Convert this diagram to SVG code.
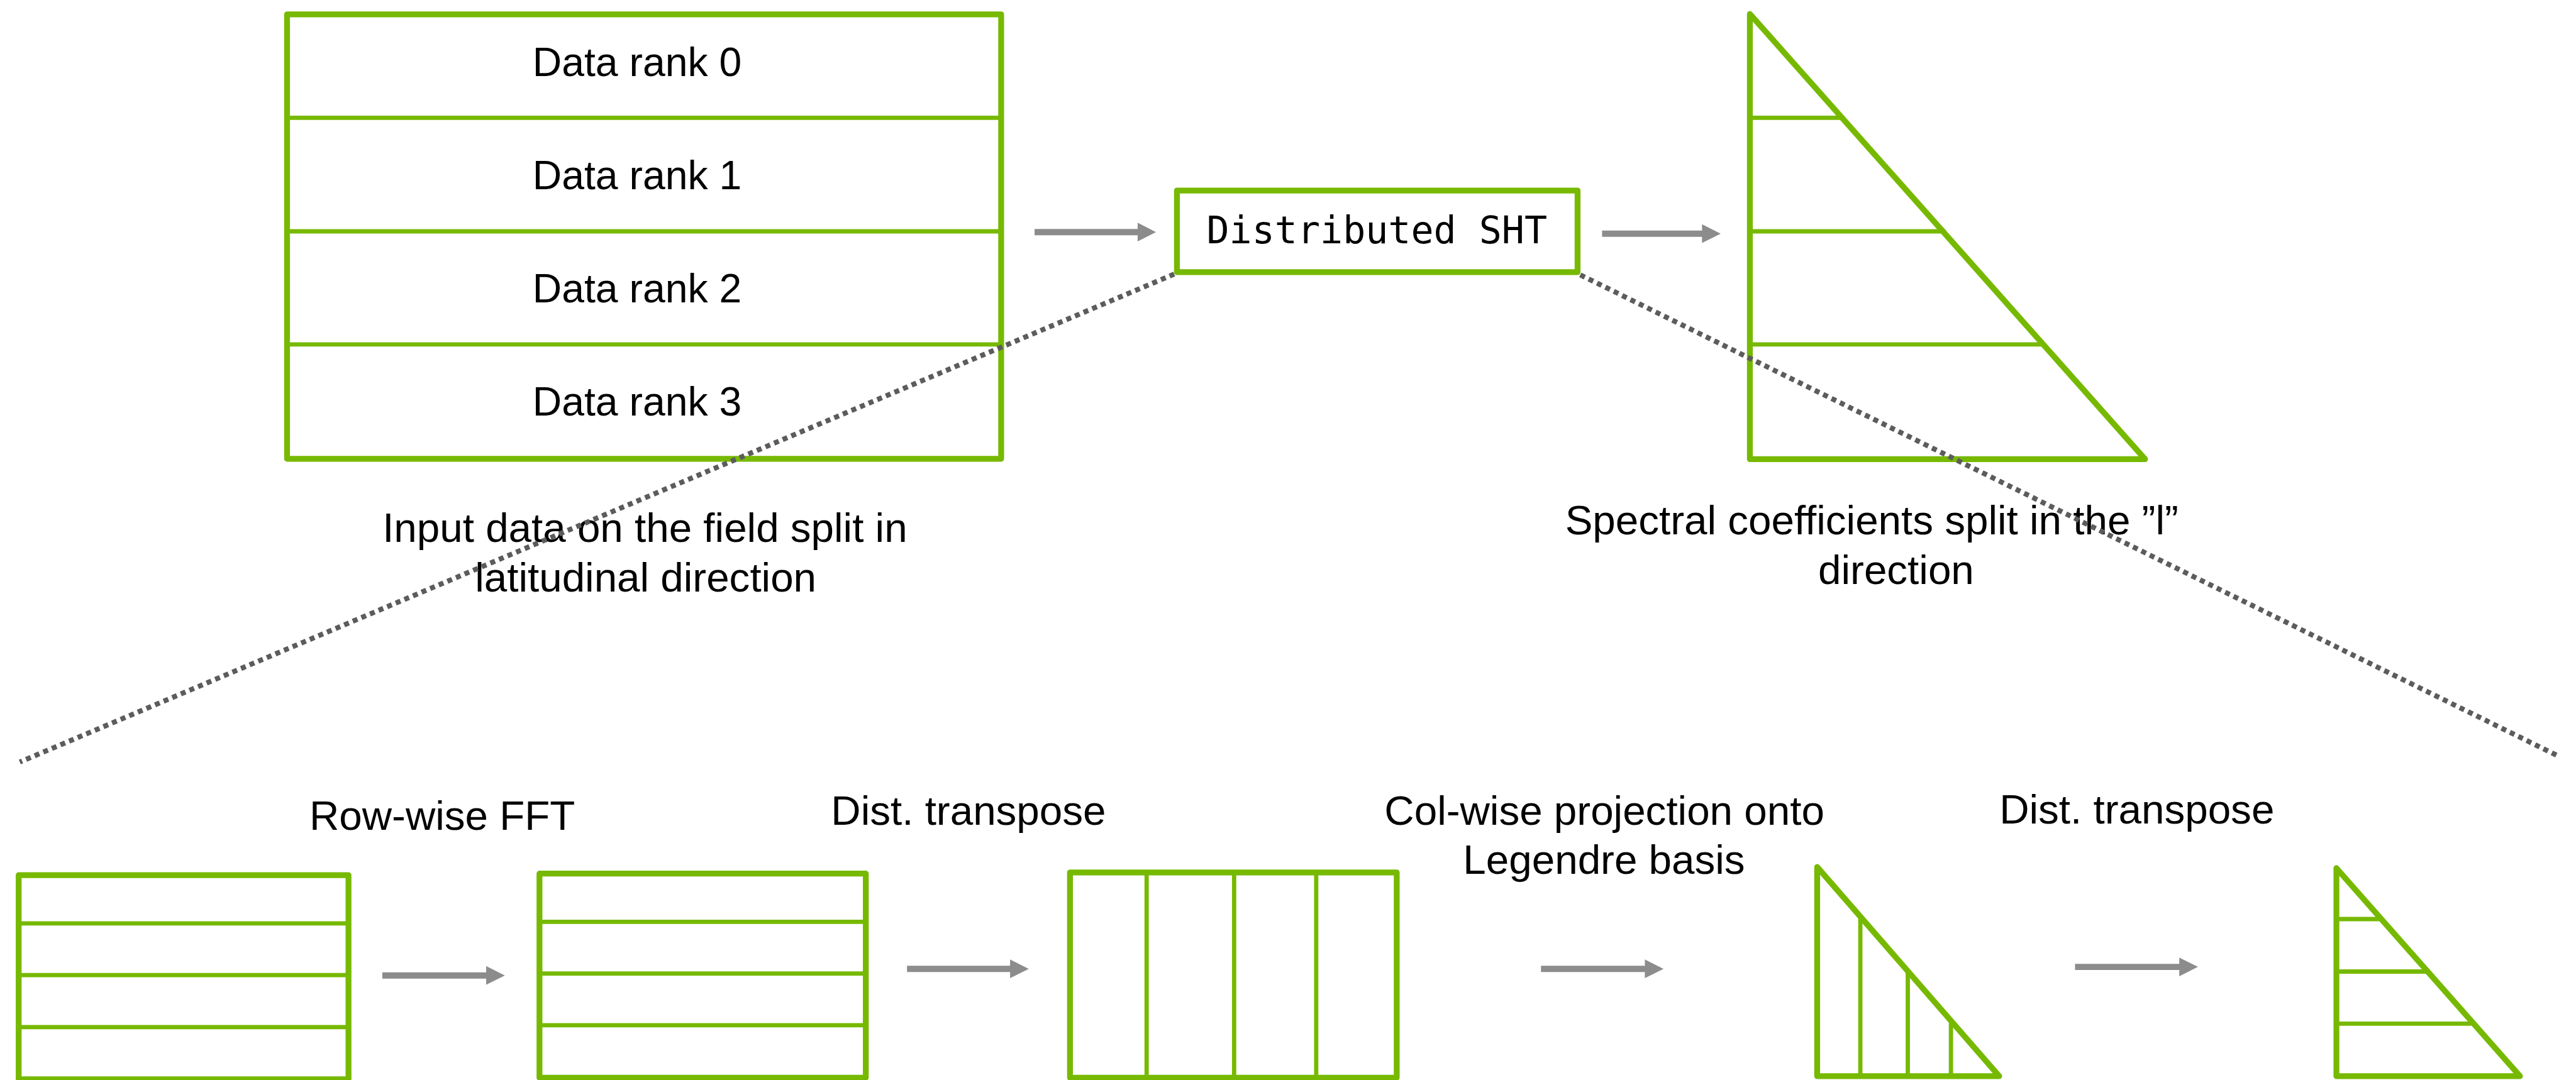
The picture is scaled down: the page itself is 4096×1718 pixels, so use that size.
<svg xmlns="http://www.w3.org/2000/svg" width="4096" height="1718" viewBox="0 0 4096 1718">
<style>
.frame{fill:none;stroke:#76b900;stroke-width:15;stroke-linejoin:round;stroke-linecap:round}
.div{fill:none;stroke:#76b900;stroke-width:11}
.arr{fill:#8c8c8c}
.dot{fill:none;stroke:#5c5c5c;stroke-width:13;stroke-dasharray:13 11}
.t{font-family:"Liberation Sans",Arial,sans-serif;font-size:106px;fill:#000;text-anchor:middle}
.dr{font-size:104px}
.mono{font-family:"DejaVu Sans Mono","Liberation Mono",monospace;font-size:97px;fill:#000;text-anchor:middle}
</style>
<rect width="4096" height="1718" fill="#fff"/>
<g transform="scale(0.61845)">
  <g id="input-data">
    <rect class="frame" x="738" y="37" width="1836" height="1143"/>
    <line class="div" x1="738" y1="303" x2="2574" y2="303"/>
    <line class="div" x1="738" y1="595" x2="2574" y2="595"/>
    <line class="div" x1="738" y1="886" x2="2574" y2="886"/>
    <text class="t dr" x="1638" y="195">Data rank 0</text>
    <text class="t dr" x="1638" y="486">Data rank 1</text>
    <text class="t dr" x="1638" y="777">Data rank 2</text>
    <text class="t dr" x="1638" y="1068">Data rank 3</text>
  </g>
  <g id="input-label">
    <text class="t" x="1658" y="1394">Input data on the field split in</text>
    <text class="t" x="1660" y="1522">latitudinal direction</text>
  </g>
  <g id="distributed-sht">
    <rect class="frame" x="3026" y="490" width="1030" height="210"/>
    <text class="mono" x="3540" y="626">Distributed SHT</text>
  </g>
  <g id="spectral-coeffs">
    <path class="frame" d="M4499 36 L4499 1181 L5515 1181 Z"/>
    <line class="div" x1="4499" y1="303" x2="4735" y2="303"/>
    <line class="div" x1="4499" y1="595" x2="5002" y2="595"/>
    <line class="div" x1="4499" y1="886" x2="5252" y2="886"/>
  </g>
  <g id="spectral-label">
    <text class="t" x="4024" y="1374" style="text-anchor:start">Spectral coefficients split in the ”l”</text>
    <text class="t" x="4875" y="1502">direction</text>
  </g>
  <g id="step-rows-1">
    <rect class="frame" x="48" y="2251" width="848" height="525"/>
    <line class="div" x1="48" y1="2375" x2="896" y2="2375"/>
    <line class="div" x1="48" y1="2508" x2="896" y2="2508"/>
    <line class="div" x1="48" y1="2642" x2="896" y2="2642"/>
  </g>
  <g id="label-fft">
    <text class="t" x="1137" y="2135">Row-wise FFT</text>
  </g>
  <g id="step-rows-2">
    <rect class="frame" x="1387" y="2247" width="839" height="525"/>
    <line class="div" x1="1387" y1="2371" x2="2226" y2="2371"/>
    <line class="div" x1="1387" y1="2504" x2="2226" y2="2504"/>
    <line class="div" x1="1387" y1="2637" x2="2226" y2="2637"/>
  </g>
  <g id="label-transpose-1">
    <text class="t" x="2490" y="2121">Dist. transpose</text>
  </g>
  <g id="step-cols">
    <rect class="frame" x="2751" y="2244" width="840" height="528"/>
    <line class="div" x1="2948" y1="2244" x2="2948" y2="2772"/>
    <line class="div" x1="3173" y1="2244" x2="3173" y2="2772"/>
    <line class="div" x1="3384" y1="2244" x2="3384" y2="2772"/>
  </g>
  <g id="label-legendre">
    <text class="t" x="4125" y="2121">Col-wise projection onto</text>
    <text class="t" x="4124" y="2247">Legendre basis</text>
  </g>
  <g id="step-tri-cols">
    <path class="frame" d="M4672 2230 L4672 2768 L5140 2768 Z"/>
    <line class="div" x1="4783" y1="2357" x2="4783" y2="2768"/>
    <line class="div" x1="4905" y1="2498" x2="4905" y2="2768"/>
    <line class="div" x1="5016" y1="2626" x2="5016" y2="2768"/>
  </g>
  <g id="label-transpose-2">
    <text class="t" x="5494" y="2118">Dist. transpose</text>
  </g>
  <g id="step-tri-rows">
    <path class="frame" d="M6007 2233 L6007 2768 L6479 2768 Z"/>
    <line class="div" x1="6007" y1="2364" x2="6123" y2="2364"/>
    <line class="div" x1="6007" y1="2499" x2="6242" y2="2499"/>
    <line class="div" x1="6007" y1="2633" x2="6360" y2="2633"/>
  </g>
  <g id="connectors">
    <polygon class="arr" points="2660,589 2925,589 2925,573 2972,597 2925,621 2925,605 2660,605"/>
    <polygon class="arr" points="4119,593 4376,593 4376,577 4424,601 4376,625 4376,609 4119,609"/>
    <polygon class="arr" points="983,2501 1250,2501 1250,2485 1298,2509 1250,2533 1250,2517 983,2517"/>
    <polygon class="arr" points="2332,2484 2597,2484 2597,2468 2645,2492 2597,2516 2597,2500 2332,2500"/>
    <polygon class="arr" points="3962,2484 4229,2484 4229,2468 4277,2492 4229,2516 4229,2500 3962,2500"/>
    <polygon class="arr" points="5335,2479 5603,2479 5603,2463 5651,2487 5603,2511 5603,2495 5335,2495"/>
    <line class="dot" x1="3019" y1="705" x2="51" y2="1960"/>
    <line class="dot" x1="4063" y1="707" x2="6578" y2="1945"/>
  </g>
</g>
</svg>
